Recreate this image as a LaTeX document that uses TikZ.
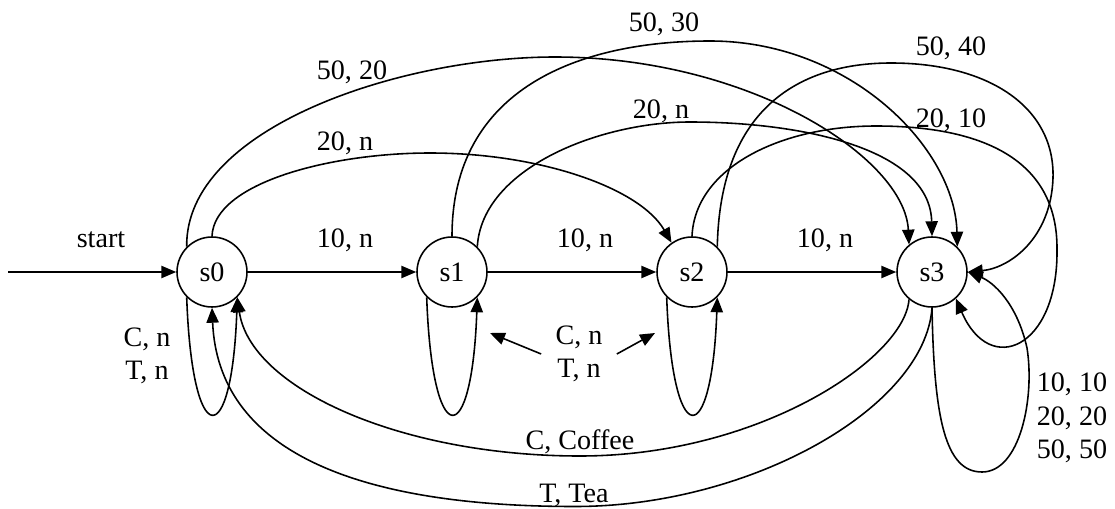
\documentclass[tikz,border=0pt]{standalone}
\usepackage{fontspec}
\setmainfont{Liberation Serif}
\usetikzlibrary{arrows.meta}
\tikzset{
  state/.style={draw, circle, line width=0.9pt, minimum size=1.4cm, inner sep=0pt,
                font=\fontsize{16}{19}\selectfont},
  lbl/.style={align=center, inner sep=0pt, font=\fontsize{16}{19}\selectfont},
  arrow/.style={-{Triangle[length=8.5pt,width=7pt]}, line width=0.9pt}
}
\begin{document}
\begin{tikzpicture}[x=0.02cm, y=0.02cm]
  \useasboundingbox (0,0) rectangle (1115,508);
  \node[state] (s0) at (212,236) {s0};
  \node[state] (s1) at (452,236) {s1};
  \node[state] (s2) at (692,236) {s2};
  \node[state] (s3) at (932,236) {s3};
  \coordinate (in) at (8,236);
  \node[lbl] (start) at (101,268) {start};
  \draw[arrow] (in) -- (s0);
  \draw[arrow] (s0) -- (s1);
  \draw[arrow] (s1) -- (s2);
  \draw[arrow] (s2) -- (s3);
  \node[lbl] (l01) at (345,268) {10, n};
  \node[lbl] (l12) at (585,268) {10, n};
  \node[lbl] (l23) at (825,268) {10, n};
  % self loops
  \draw[arrow] (s0.225) to[out=-88, in=-92, distance=3.1cm] (s0.315);
  \draw[arrow] (s1.225) to[out=-88, in=-92, distance=3.1cm] (s1.315);
  \draw[arrow] (s2.225) to[out=-88, in=-92, distance=3.1cm] (s2.315);
  \draw[arrow] (s3.south) .. controls (934,90) and (945,36) .. (982,36)
    .. controls (1020,36) and (1035,110) .. (1027,160)
    .. controls (1017,205) and (993,226) .. (s3.east);
  \node[lbl] (cn0) at (147,152) {C, n\\T, n};
  \node[lbl, inner xsep=8pt] (cn12) at (579,154) {C, n\\T, n};
  \coordinate (p1) at (490,175);
  \coordinate (p2) at (655,175);
  \draw[arrow] (cn12.west) -- (p1);
  \draw[arrow] (cn12.east) -- (p2);
  \node[lbl] (cn3) at (1072,90) {10, 10\\20, 20\\50, 50};
  % arcs over the top
  \draw[arrow] (s0.north) .. controls (214,325) and (330,355) .. (430,355)
    .. controls (540,355) and (640,320) .. (s2.125);
  \draw[arrow] (s0.135) .. controls (185,380) and (400,451) .. (555,451)
    .. controls (750,451) and (905,350) .. (s3.130);
  \draw[arrow] (s1.45) .. controls (482,340) and (600,386) .. (690,386)
    .. controls (800,386) and (930,360) .. (s3.north);
  \draw[arrow] (s1.north) .. controls (452,420) and (580,467) .. (710,467)
    .. controls (850,467) and (955,360) .. (s3.45);
  \draw[arrow] (s2.45) .. controls (720,400) and (800,445) .. (891,445)
    .. controls (990,445) and (1055,400) .. (1053,330)
    .. controls (1051,270) and (1010,240) .. (s3.east);
  \draw[arrow] (s2.north) .. controls (695,340) and (780,382) .. (876,382)
    .. controls (980,382) and (1058,350) .. (1057,258)
    .. controls (1058,160) and (990,130) .. (s3.-48);
  \node[lbl] (a02) at (345,365) {20, n};
  \node[lbl] (a03) at (352,436) {50, 20};
  \node[lbl] (a13n) at (661,397) {20, n};
  \node[lbl] (a13) at (664,484) {50, 30};
  \node[lbl] (a23a) at (951,460) {50, 40};
  \node[lbl] (a23b) at (951,388) {20, 10};
  % back to s0
  \draw[arrow] (s3.-130) .. controls (905,150) and (760,52) .. (580,52)
    .. controls (400,52) and (250,120) .. (s0.-45);
  \draw[arrow] (s3.south) .. controls (925,100) and (750,1.5) .. (575,1.5)
    .. controls (350,1.5) and (218,60) .. (s0.south);
  \node[lbl] (cof) at (580,66) {C, Coffee};
  \node[lbl] (tea) at (574,13) {T, Tea};
\end{tikzpicture}
\end{document}
